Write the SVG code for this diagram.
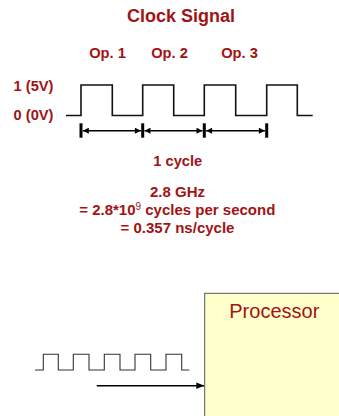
<svg xmlns="http://www.w3.org/2000/svg" width="339" height="416" viewBox="0 0 339 416">
<style>
.t{font-family:"Liberation Sans",Arial,sans-serif;fill:#a01414;font-weight:bold;text-anchor:middle}
.w{fill:none;stroke:#111;stroke-width:1.6}
.ws{fill:none;stroke:#333;stroke-width:1.1}
.dim{stroke:#000;stroke-width:1.5;fill:none}
.bar{stroke:#000;stroke-width:3}
</style>
<defs>
<marker id="ah" viewBox="0 0 10 10" refX="10" refY="5" markerWidth="7" markerHeight="6" orient="auto-start-reverse" markerUnits="userSpaceOnUse">
<path d="M0,0 L10,5 L0,10 z" fill="#000"/>
</marker>
<marker id="ah2" viewBox="0 0 10 10" refX="10" refY="5" markerWidth="8" markerHeight="8" orient="auto" markerUnits="userSpaceOnUse">
<path d="M0,1 L10,5 L0,9 z" fill="#000"/>
</marker>
</defs>
<g id="title"><text class="t" x="181" y="22" font-size="18">Clock Signal</text></g>
<g id="ops">
<text class="t" x="107.5" y="57.5" font-size="14.7">Op. 1</text>
<text class="t" x="169.5" y="57.5" font-size="14.7">Op. 2</text>
<text class="t" x="239.5" y="57.5" font-size="14.7">Op. 3</text>
</g>
<g id="levels">
<text class="t" x="53.5" y="90.5" font-size="14.7" style="text-anchor:end">1 (5V)</text>
<text class="t" x="53.5" y="120" font-size="14.7" style="text-anchor:end">0 (0V)</text>
</g>
<g id="clock-wave">
<path class="w" d="M66,115.5 H81 V85 H112.3 V115.5 H142.7 V85 H173.7 V115.5 H204.3 V85 H235.7 V115.5 H266.7 V85 H297.3 V115.5 H312.7"/>
</g>
<g id="connectors">
<line class="bar" x1="81" y1="123.3" x2="81" y2="137.7"/>
<line class="bar" x1="142.7" y1="123.3" x2="142.7" y2="137.7"/>
<line class="bar" x1="204.3" y1="123.3" x2="204.3" y2="137.7"/>
<line class="bar" x1="266.7" y1="123.3" x2="266.7" y2="137.7"/>
<line class="dim" x1="82.8" y1="130.7" x2="140.9" y2="130.7" marker-start="url(#ah)" marker-end="url(#ah)"/>
<line class="dim" x1="144.5" y1="130.7" x2="202.5" y2="130.7" marker-start="url(#ah)" marker-end="url(#ah)"/>
<line class="dim" x1="206.1" y1="130.7" x2="264.9" y2="130.7" marker-start="url(#ah)" marker-end="url(#ah)"/>
<line stroke="#000" stroke-width="1.6" x1="96.7" y1="385.7" x2="204.3" y2="385.7" marker-end="url(#ah2)"/>
</g>
<g id="cycle-label"><text class="t" x="177.8" y="165.7" font-size="14.7">1 cycle</text></g>
<g id="freq">
<text class="t" x="177.5" y="196.7" font-size="15">2.8 GHz</text>
<text class="t" x="177.3" y="215" font-size="15">= 2.8*10<tspan font-size="10" font-weight="normal" dy="-5">9</tspan><tspan dy="5"> cycles per second</tspan></text>
<text class="t" x="177.5" y="233.3" font-size="15">= 0.357 ns/cycle</text>
</g>
<g id="small-wave">
<path class="ws" d="M35,370 H43.3 V354.3 H58.3 V370 H73.3 V354.3 H89 V370 H104.3 V354.3 H120 V370 H135 V354.3 H150.7 V370 H166 V354.3 H181.7 V370 H189.3"/>
</g>
<g id="processor">
<rect x="204.7" y="293.3" width="140" height="130" fill="#ffffcc" stroke="#555" stroke-width="1"/>
<text x="274.3" y="317.5" font-size="20" font-family="'Liberation Sans',Arial,sans-serif" fill="#a01414" text-anchor="middle">Processor</text>
</g>
</svg>
